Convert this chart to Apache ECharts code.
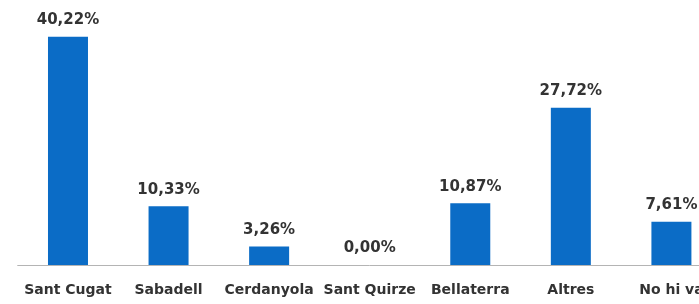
<!DOCTYPE html>
<html>
<head>
<meta charset="utf-8">
<script src="https://cdn.jsdelivr.net/npm/echarts@6/dist/echarts.min.js"></script>
<style>
html,body{margin:0;padding:0;background:#fff;overflow:hidden;width:699px;height:304px;}
#chart{width:740px;height:304px;}
</style>
</head>
<body>
<div id="chart"></div>
<script>
const categories = ["Sant Cugat","Sabadell","Cerdanyola","Sant Quirze","Bellaterra","Altres","No hi va"];
const values = [40.22, 10.33, 3.26, 0.00, 10.87, 27.72, 7.61];

const chart = echarts.init(document.getElementById('chart'), null, {renderer:'canvas'});
chart.setOption({
  animation:false,
  backgroundColor:'#ffffff',
  grid:{left:17.7, right:18.3, top:9.6, bottom:39},
  xAxis:{
    type:'category',
    data:categories,
    axisLine:{show:true, lineStyle:{color:'#b4b4b4', width:1}},
    axisTick:{show:false},
    axisLabel:{
      interval:0, margin:18, color:'#333333',
      fontFamily:'DejaVu Sans', fontWeight:'bold', fontSize:14
    }
  },
  yAxis:{type:'value', min:0, max:45, show:false, splitLine:{show:false}},
  series:[{
    type:'bar',
    data:values,
    barWidth:40,
    itemStyle:{color:'#0b6cc6'},
    label:{
      show:true, position:'top', distance:9,
      color:'#333333', fontFamily:'DejaVu Sans', fontWeight:'bold', fontSize:15,
      formatter:p => p.value.toFixed(2).replace('.', ',') + '%'
    }
  }]
});
</script>
</body>
</html>
